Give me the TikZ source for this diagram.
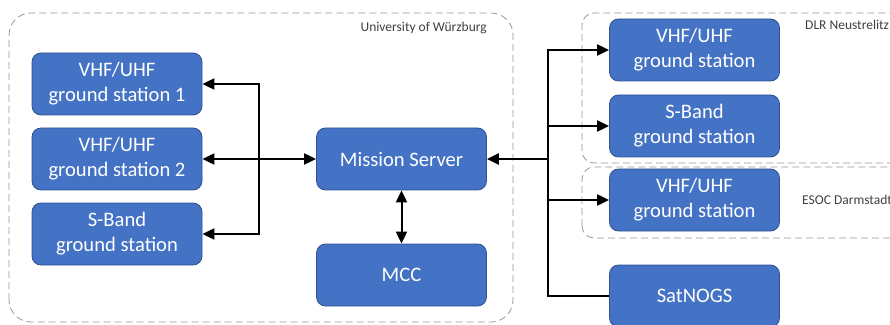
\documentclass[tikz,border=0pt]{standalone}
\usepackage{fontspec}
\setmainfont{Carlito}
\usepackage{xcolor}
\definecolor{boxfill}{RGB}{68,114,196}
\definecolor{boxline}{RGB}{47,82,143}
\definecolor{sitegray}{RGB}{150,150,150}
\definecolor{labelgray}{RGB}{64,64,64}
\usepackage{tikz}
\usetikzlibrary{arrows.meta, positioning}
\tikzstyle{station} = [
    rectangle, rounded corners=9pt,
    text centered, align=center,
    minimum width=170pt,
    minimum height=62pt,
    fill=boxfill,
    draw=boxline,
    line width=0.8pt,
    text=white,
    font=\fontsize{20.6}{25}\selectfont,
]
\tikzstyle{twoline} = [
    station,
    execute at begin node={\rule{0pt}{21pt}},
]
\tikzstyle{site} = [
    draw=sitegray,
    dash pattern=on 7pt off 4pt,
    line width=0.8pt,
]
\tikzstyle{sitelabel} = [
    text=labelgray,
    inner sep=0pt,
    font=\fontsize{13.5}{15}\selectfont,
]
\tikzstyle{link} = [line width=2pt, -{Triangle[length=12pt,width=11pt]}]
\tikzstyle{duplex} = [link, {Triangle[length=12pt,width=11pt]}-{Triangle[length=12pt,width=11pt]}]

\begin{document}
\begin{tikzpicture}[x=1pt, y=1pt]
    \useasboundingbox (0,0) rectangle (890,324);

    % sites
    \draw [site, rounded corners=22pt] (9,2) rectangle (513,311);
    \draw [site, rounded corners=12pt] (582,161) rectangle (910,311);
    \draw [site, rounded corners=12pt] (582,86) rectangle (910,157);
    \node (wue) at (487,292) [sitelabel, anchor=base east] {University of Würzburg};
    \node (dlr) at (805,294) [sitelabel, anchor=base west] {DLR Neustrelitz};
    \node (esoc) at (802,120) [sitelabel, anchor=base west] {ESOC Darmstadt};

    % boxes
    \node (gs1) at (117,240) [twoline] {VHF/UHF\\ground station 1};
    \node (gs2) at (117,165) [twoline] {VHF/UHF\\ground station 2};
    \node (gs3) at (117,90) [twoline] {S-Band\\ground station};
    \node (server) at (401.5,165) [station] {Mission Server};
    \node (mcc) at (401.5,49) [station] {MCC};
    \node (dlrvhf) at (694.5,274) [twoline] {VHF/UHF\\ground station};
    \node (dlrsband) at (694.5,198) [twoline] {S-Band\\ground station};
    \node (esocvhf) at (694.5,124) [twoline] {VHF/UHF\\ground station};
    \node (satnogs) at (694.5,28) [station] {SatNOGS};

    % arrows
    \coordinate (lbus) at (259,165);
    \coordinate (rbus) at (548,165);
    \draw [duplex] (gs2.east) to (server.west);
    \foreach \n in {gs1, gs3} {
        \draw [link] (lbus) |- (\n.east);
    }
    \draw [duplex] (server.south) to (mcc.north);
    \draw [link, line width=2.8pt] (rbus) to (server.east);
    \foreach \n in {dlrvhf, dlrsband, esocvhf} {
        \draw [link] (rbus) |- (\n.west);
    }
    \draw [line width=2pt] (rbus) |- (satnogs.west);
\end{tikzpicture}
\end{document}
